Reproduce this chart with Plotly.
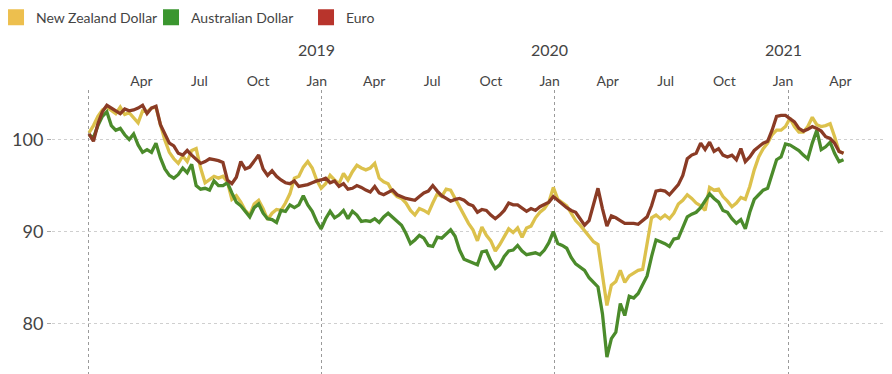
import pandas as pd
import plotly.graph_objects as go

# ---- data (weekly index values) ----
start_date = "2018-01-01"
n_weeks = 170
dates = pd.date_range(start_date, periods=n_weeks, freq="7D")

nzd = [100.7, 101.5, 102.5, 103.2, 103.5, 103.2, 102.8, 103.5, 102.7, 102.9,
       102.4, 101.8, 103.1, 103.0, 103.4, 103.5, 101.6, 99.9, 98.6, 97.9,
       97.4, 98.2, 97.6, 98.8, 99.0, 96.9, 95.3, 95.6, 96.0, 95.8,
       96.0, 95.4, 93.5, 93.9, 93.2, 92.3, 91.8, 93.0, 93.4, 92.5,
       91.3, 92.0, 92.4, 92.3, 93.1, 94.1, 95.8, 96.0, 97.0, 97.6,
       96.9, 95.6, 94.7, 95.2, 96.1, 95.6, 95.2, 96.3, 95.6, 96.5,
       97.2, 96.9, 96.7, 96.9, 97.4, 95.8, 95.4, 95.2, 94.3, 93.8,
       93.6, 93.1, 92.3, 91.8, 92.5, 92.3, 92.0, 93.1, 94.1, 93.8,
       94.6, 94.5, 93.6, 92.6, 91.7, 90.9, 90.2, 89.0, 90.5, 89.6,
       89.0, 87.9, 88.6, 89.5, 90.3, 89.9, 90.4, 89.4, 90.4, 90.6,
       91.5, 92.1, 92.5, 93.2, 94.8, 93.5, 93.2, 92.8, 92.0, 91.2,
       90.7, 90.1, 89.4, 88.9, 88.6, 85.5, 82.0, 84.2, 84.6, 85.8,
       84.5, 85.2, 85.5, 85.8, 85.9, 88.5, 91.5, 91.8, 91.4, 91.8,
       91.4, 92.0, 93.0, 93.4, 94.0, 93.6, 93.1, 92.8, 92.3, 94.8,
       94.5, 94.6, 93.8, 93.3, 92.7, 93.1, 93.7, 93.5, 94.9, 96.7,
       98.1, 99.0, 99.6, 100.5, 101.0, 101.0, 101.4, 102.3, 101.4, 100.8,
       100.8, 101.4, 102.4, 101.6, 101.4, 101.5, 101.7, 100.3, 98.7, 98.5]

aud = [100.5, 100.2, 101.5, 102.5, 103.0, 101.5, 101.0, 101.2, 100.5, 100.0,
       100.6, 99.4, 98.6, 98.9, 98.6, 99.6, 98.0, 96.8, 96.1, 95.8,
       96.2, 96.9, 96.4, 97.3, 95.0, 94.6, 94.7, 94.5, 95.5, 95.0,
       95.0, 95.3, 94.2, 93.2, 92.8, 92.2, 91.6, 92.6, 93.0, 92.0,
       91.4, 91.3, 91.0, 92.3, 92.2, 92.9, 92.6, 92.9, 93.9, 92.9,
       92.2, 91.1, 90.3, 91.4, 92.2, 91.5, 91.8, 92.3, 91.4, 92.2,
       91.8, 91.1, 91.2, 91.1, 91.4, 91.0, 91.6, 92.0, 91.6, 91.1,
       90.7, 89.8, 88.7, 89.1, 89.6, 89.3, 88.5, 88.4, 89.4, 89.3,
       89.8, 90.2, 89.5, 88.0, 87.0, 86.8, 86.6, 86.4, 87.8, 87.9,
       86.8, 86.0, 86.4, 87.3, 87.9, 88.0, 88.5, 87.9, 87.5, 87.6,
       87.7, 87.5, 88.0, 88.8, 90.0, 88.7, 88.5, 88.2, 87.2, 86.5,
       86.1, 85.8, 85.0, 84.5, 84.0, 81.1, 76.4, 78.4, 79.1, 82.2,
       80.9, 83.0, 82.8, 83.3, 84.2, 85.2, 87.3, 89.1, 88.9, 88.7,
       88.4, 89.2, 89.3, 90.5, 91.6, 91.9, 92.1, 92.6, 93.4, 94.1,
       93.6, 93.2, 92.3, 92.1, 91.4, 90.9, 91.3, 90.3, 92.1, 93.5,
       94.0, 94.5, 94.7, 96.4, 97.8, 98.1, 99.5, 99.4, 99.1, 98.8,
       98.3, 97.9, 99.6, 101.0, 98.9, 99.2, 99.7, 98.5, 97.6, 97.8]

eur = [100.6, 99.8, 101.7, 103.0, 103.7, 103.4, 103.2, 102.8, 103.3, 103.1,
       103.2, 103.4, 103.7, 102.8, 103.4, 103.6, 101.6, 100.5, 99.6, 99.3,
       98.5, 98.3, 98.8, 98.3, 97.8, 97.4, 97.6, 97.9, 97.8, 97.7,
       97.5, 95.6, 95.2, 95.9, 97.6, 96.8, 97.0, 97.7, 98.3, 96.8,
       96.1, 96.6, 96.0, 95.6, 95.3, 95.2, 95.5, 94.9, 95.0, 95.1,
       95.3, 95.5, 95.6, 95.8, 95.3, 95.5, 94.9, 95.2, 94.6, 94.7,
       95.0, 94.8, 94.5, 94.3, 94.9, 94.2, 94.0, 94.3, 94.5, 94.0,
       93.8, 93.6, 93.5, 93.4, 93.8, 94.2, 94.4, 95.0, 94.4, 93.9,
       93.6, 93.3, 93.5, 93.6, 93.4, 93.0, 92.8, 92.1, 92.4, 92.3,
       91.8, 91.4, 91.8, 92.3, 93.1, 92.9, 92.9, 92.6, 92.2, 92.5,
       92.3, 92.7, 93.0, 93.2, 93.8, 93.4, 92.9, 92.6, 92.3, 92.1,
       91.4, 90.7, 91.2, 93.0, 94.7, 92.5, 90.6, 91.7, 91.5, 91.2,
       90.9, 90.9, 90.9, 90.8, 91.2, 91.6, 92.8, 94.4, 94.5, 94.4,
       94.0, 94.5, 95.1, 96.1, 97.9, 98.3, 98.5, 99.6, 98.9, 99.7,
       98.7, 99.0, 98.3, 98.1, 98.3, 97.8, 99.0, 97.6, 98.1, 98.8,
       99.2, 99.6, 99.8, 101.0, 102.5, 102.6, 102.6, 102.3, 101.9, 101.2,
       100.9, 101.1, 101.4, 101.2, 100.9, 100.3, 100.1, 99.6, 98.7, 98.5]

series_names = ["New Zealand Dollar", "Australian Dollar", "Euro"]
line_colors = ["#DCC14C", "#4B8B2B", "#8A3B25"]
legend_colors = ["#EDBF4E", "#3A962F", "#B8342C"]

month_tick_dates = ["2018-04-01", "2018-07-01", "2018-10-01", "2019-01-01",
                    "2019-04-01", "2019-07-01", "2019-10-01", "2020-01-01",
                    "2020-04-01", "2020-07-01", "2020-10-01", "2021-01-01",
                    "2021-04-01"]
month_tick_text = ["Apr", "Jul", "Oct", "Jan", "Apr", "Jul", "Oct", "Jan",
                   "Apr", "Jul", "Oct", "Jan", "Apr"]
year_line_dates = ["2018-01-01", "2019-01-01", "2020-01-01", "2021-01-01"]
year_label_dates = ["2019-01-01", "2020-01-01", "2021-01-01"]
year_labels = ["2019", "2020", "2021"]
y_ticks = [80, 90, 100]

x_range = ["2017-11-04", "2021-06-02"]
y_range = [74.56, 105.36]

FONT = "Lato, 'Open Sans', sans-serif"
TXT = "#444444"

fig = go.Figure()

for name, vals, col in zip(series_names, [nzd, aud, eur], line_colors):
    fig.add_trace(go.Scatter(
        x=dates, y=vals, mode="lines", name=name, showlegend=False,
        line=dict(color=col, width=3.3), hoverinfo="x+y+name"))

# legend entries drawn as squares
for name, col in zip(series_names, legend_colors):
    fig.add_trace(go.Scatter(
        x=[None], y=[None], mode="markers", name=name, xaxis="x2",
        marker=dict(symbol="square", size=16, color=col), showlegend=True))

fig.update_layout(
    width=892, height=374,
    margin=dict(l=52, r=7, t=90, b=0, autoexpand=False),
    paper_bgcolor="white", plot_bgcolor="white",
    font=dict(family=FONT, color=TXT, size=14),
    showlegend=True,
    legend=dict(orientation="h", x=-0.0672, xanchor="left", y=1.311,
                yanchor="top", font=dict(size=14, color=TXT),
                entrywidth=110, entrywidthmode="pixels",
                bgcolor="rgba(0,0,0,0)", itemclick=False),
    xaxis=dict(type="date", range=x_range, side="top",
               tickvals=month_tick_dates, ticktext=month_tick_text,
               ticklabelshift=-5, showgrid=False, zeroline=False,
               showline=False, ticks="", tickfont=dict(size=14, color=TXT)),
    xaxis2=dict(type="date", range=x_range, overlaying="x", anchor="y",
                side="top", tickvals=year_line_dates, showticklabels=False,
                showgrid=True, gridcolor="#9a9a9a", griddash="dot",
                gridwidth=1, ticks="", showline=False, zeroline=False),
    yaxis=dict(range=y_range, tickvals=y_ticks, showgrid=True,
               gridcolor="#cfcfcf", griddash="dot", gridwidth=1,
               zeroline=False, showline=False, ticks="outside", ticklen=4,
               tickcolor="#aaaaaa", tickfont=dict(size=18, color=TXT)),
)

for d, lab in zip(year_label_dates, year_labels):
    fig.add_annotation(x=d, y=1.144, xref="x", yref="paper", text=lab,
                       showarrow=False, xshift=-5, yanchor="middle",
                       font=dict(size=16, color=TXT, family=FONT))

fig.write_html(
    "out.html",
    config={"displayModeBar": False},
    post_script="document.body.style.margin='0';document.body.style.overflow='hidden';",
)
